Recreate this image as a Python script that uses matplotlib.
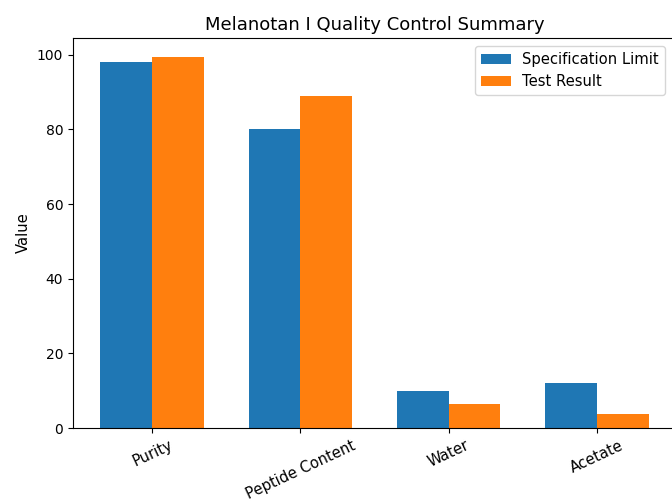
import matplotlib
matplotlib.use("Agg")
import matplotlib.pyplot as plt
import numpy as np

categories = ["Purity", "Peptide Content", "Water", "Acetate"]
spec_limit = [98, 80, 10, 12]
test_result = [99.5, 89, 6.5, 3.8]

x = np.arange(len(categories))
width = 0.35

fig = plt.figure(figsize=(6.72, 5.01), dpi=100)
ax = fig.add_axes([73 / 672, 73 / 501, 603 / 672, 390 / 501])
ax.bar(x - width / 2, spec_limit, width, label="Specification Limit")
ax.bar(x + width / 2, test_result, width, label="Test Result")
ax.set_xticks(x)
ax.set_xticklabels(categories, rotation=25, fontsize=10.6)
ax.set_ylabel("Value", fontsize=10.6)
ax.set_title("Melanotan I Quality Control Summary", fontsize=13)
ax.legend(fontsize=10.6, loc="upper right", bbox_to_anchor=(665 / 672, 455 / 501),
          bbox_transform=fig.transFigure, borderaxespad=0)
fig.savefig("out.png", dpi=100)
